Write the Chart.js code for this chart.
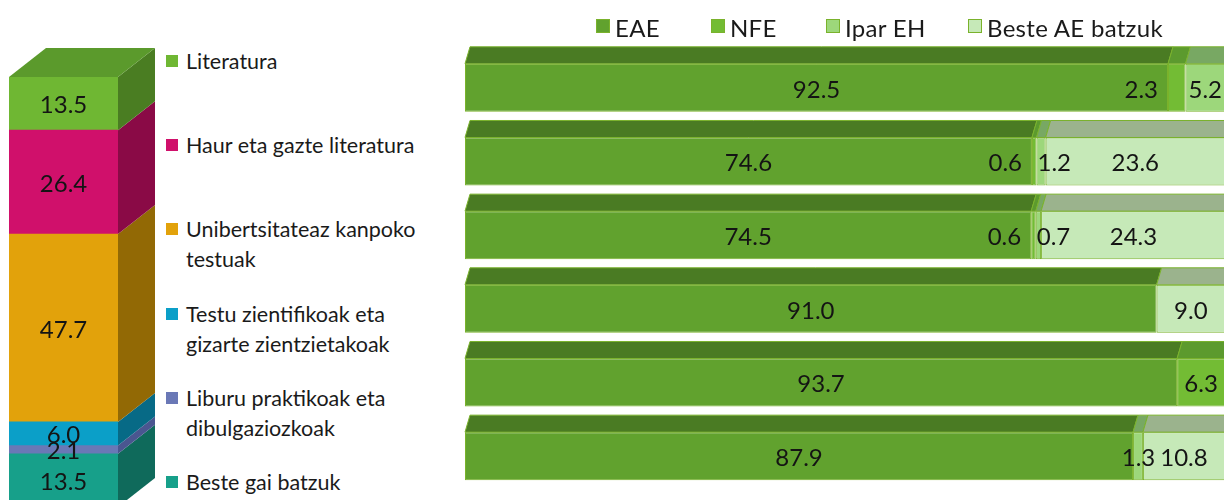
<!DOCTYPE html>
<html>
<head>
<meta charset="utf-8">
<script src="https://cdn.jsdelivr.net/npm/chart.js@4.4.1/dist/chart.umd.min.js"></script>
<style>
  html, body { margin:0; padding:0; width:1224px; height:500px; overflow:hidden; background:#fff; }
  body { position:relative; font-family: Lato, "Open Sans", sans-serif; color:#1a1a1a; }
  #leftWrap { position:absolute; left:0; top:0; width:160px; height:520px; }
  #rightWrap { position:absolute; left:440px; top:0; width:800px; height:500px; }
  #topicLegend { position:absolute; left:166px; top:0; width:290px; height:500px; }
  .tItem { position:absolute; left:0; width:280px; font-size:21.5px; line-height:30px; }
  .tItem .sw { position:absolute; left:0; top:9px; width:12px; height:12px; }
  .tItem .tx { display:block; margin-left:20px; width:245px; }
  #regionLegend { position:absolute; left:0; top:12px; width:1224px; height:34px; font-size:24px; line-height:32px; white-space:nowrap; letter-spacing:0.3px; }
  .rItem { position:absolute; top:0; display:flex; align-items:center; }
  .rItem .sw { width:14px; height:14px; margin-right:5px; margin-top:-4px; box-sizing:border-box; }
</style>
</head>
<body>
<div id="leftWrap"><canvas id="leftChart"></canvas></div>
<div id="topicLegend"></div>
<div id="rightWrap"><canvas id="rightChart"></canvas></div>
<div id="regionLegend"></div>
<script>
// ---- data ----
const topics = ['Literatura', 'Haur eta gazte literatura', 'Unibertsitateaz kanpoko testuak',
  'Testu zientifikoak eta gizarte zientzietakoak', 'Liburu praktikoak eta dibulgaziozkoak', 'Beste gai batzuk'];
const topicShares = [13.5, 26.4, 47.7, 6.0, 2.1, 13.5];
const regions = ['EAE', 'NFE', 'Ipar EH', 'Beste AE batzuk'];
const eaeValues   = [92.5, 74.6, 74.5, 91.0, 93.7, 87.9];
const nfeValues   = [2.3, 0.6, 0.6, 0, 6.3, 0];
const iparValues  = [5.2, 1.2, 0.7, 0, 0, 1.3];
const besteValues = [0, 23.6, 24.3, 9.0, 0, 10.8];

// ---- styles / layout ----
const topicFront = ['#6fb733', '#d0106b', '#e2a20b', '#0b9fc8', '#6a78b6', '#17a08a'];
const topicSide  = ['#4a7d22', '#8a0a46', '#926905', '#076a86', '#4a5690', '#0f6a5b'];
const topicTop   = '#5b9a2c';
const regionFront = ['#61a22e', '#73bc34', '#9dd77b', '#c6e9b8'];
const regionTop   = ['#4a7b23', '#5c9a2e', '#78a863', '#9bb38d'];
const regionBorder = '#7ab22c';
const regionLegendLeft = [596, 711, 826, 968];
const labelFont = '24px Lato, "Open Sans", sans-serif';

// ---- left stacked column (3D look) ----
const leftTotal = topicShares.reduce((a, b) => a + b, 0);
const leftDatasets = topics.map((t, i) => ({ label: t, data: [topicShares[i]], backgroundColor: topicFront[i],
  borderWidth: 0, _idx: i })).reverse();

const left3D = {
  id: 'left3D',
  afterDatasetsDraw(chart) {
    const ctx = chart.ctx, dx = 37, dy = 29;
    ctx.save();
    let topMost = null;
    chart.data.datasets.forEach((ds, di) => {
      const meta = chart.getDatasetMeta(di);
      meta.data.forEach(el => {
        const p = el.getProps(['x', 'y', 'base', 'width'], true);
        const x1 = p.x + p.width / 2, yT = Math.min(p.y, p.base), yB = Math.max(p.y, p.base);
        ctx.fillStyle = topicSide[ds._idx];
        ctx.beginPath();
        ctx.moveTo(x1, yT); ctx.lineTo(x1 + dx, yT - dy); ctx.lineTo(x1 + dx, yB - dy); ctx.lineTo(x1, yB);
        ctx.closePath(); ctx.fill();
        if (!topMost || yT < topMost.yT) topMost = { x0: p.x - p.width / 2, x1, yT };
      });
    });
    if (topMost) {
      ctx.fillStyle = topicTop;
      ctx.beginPath();
      ctx.moveTo(topMost.x0, topMost.yT); ctx.lineTo(topMost.x1, topMost.yT);
      ctx.lineTo(topMost.x1 + dx, topMost.yT - dy); ctx.lineTo(topMost.x0 + dx, topMost.yT - dy);
      ctx.closePath(); ctx.fill();
    }
    ctx.font = labelFont;
    ctx.fillStyle = '#141414'; ctx.textAlign = 'center'; ctx.textBaseline = 'middle';
    chart.data.datasets.forEach((ds, di) => {
      const meta = chart.getDatasetMeta(di);
      meta.data.forEach((el, j) => {
        const p = el.getProps(['x', 'y', 'base'], true);
        ctx.fillText(ds.data[j].toFixed(1), p.x, (p.y + p.base) / 2 + 2);
      });
    });
    ctx.restore();
  }
};

new Chart(document.getElementById('leftChart'), {
  type: 'bar',
  data: { labels: ['Gaiak'], datasets: leftDatasets },
  options: {
    responsive: true, maintainAspectRatio: false, animation: false,
    layout: { padding: { left: 9, right: 42, top: 77, bottom: 13 } },
    datasets: { bar: { categoryPercentage: 1, barPercentage: 1 } },
    scales: {
      x: { stacked: true, display: false },
      y: { stacked: true, display: false, min: 0, max: leftTotal }
    },
    plugins: { legend: { display: false }, tooltip: { enabled: false } }
  },
  plugins: [left3D]
});

// ---- right stacked horizontal bars (3D look) ----
const regionSeries = [eaeValues, nfeValues, iparValues, besteValues];
const rightDatasets = regions.map((r, i) => ({ label: r, data: regionSeries[i], backgroundColor: regionFront[i],
  borderColor: regionBorder, borderWidth: 1, borderSkipped: false }));

const right3D = {
  id: 'right3D',
  afterDatasetsDraw(chart) {
    const ctx = chart.ctx, dx = 5, dy = 17;
    ctx.save();
    chart.data.datasets.forEach((ds, di) => {
      const meta = chart.getDatasetMeta(di);
      meta.data.forEach((el, j) => {
        if (!ds.data[j]) return;
        const p = el.getProps(['x', 'y', 'base', 'height'], true);
        const x0 = Math.min(p.x, p.base), x1 = Math.max(p.x, p.base), yT = p.y - p.height / 2;
        ctx.fillStyle = regionTop[di];
        ctx.strokeStyle = regionBorder; ctx.lineWidth = 1;
        ctx.beginPath();
        ctx.moveTo(x0, yT); ctx.lineTo(x1, yT); ctx.lineTo(x1 + dx, yT - dy); ctx.lineTo(x0 + dx, yT - dy);
        ctx.closePath(); ctx.fill(); ctx.stroke();
      });
    });
    ctx.font = labelFont;
    ctx.fillStyle = '#141414'; ctx.textBaseline = 'middle';
    const nDs = chart.data.datasets.length;
    const seg = (di, j) => {
      const p = chart.getDatasetMeta(di).data[j].getProps(['x', 'y', 'base'], true);
      return { x0: Math.min(p.x, p.base), x1: Math.max(p.x, p.base), y: p.y };
    };
    chart.data.datasets.forEach((ds, di) => {
      ds.data.forEach((v, j) => {
        if (!v) return;
        const s = seg(di, j);
        const txt = v.toFixed(1), w = ctx.measureText(txt).width;
        if (w + 6 <= s.x1 - s.x0) { ctx.textAlign = 'center'; ctx.fillText(txt, (s.x0 + s.x1) / 2, s.y + 2); return; }
        if (di === 1) { ctx.textAlign = 'right'; ctx.fillText(txt, s.x0 - 10, s.y + 2); return; }
        // small segment: left-aligned, but keep clear of the next segment's centred label
        let left = s.x0 + 1;
        for (let k = di + 1; k < nDs; k++) {
          const nv = chart.data.datasets[k].data[j];
          if (!nv) continue;
          const n = seg(k, j), nw = ctx.measureText(nv.toFixed(1)).width;
          const nLeft = (n.x0 + n.x1) / 2 - nw / 2;
          left = Math.min(left, nLeft - 5 - w);
          break;
        }
        ctx.textAlign = 'left'; ctx.fillText(txt, left, s.y + 2);
      });
    });
    ctx.restore();
  }
};

new Chart(document.getElementById('rightChart'), {
  type: 'bar',
  data: { labels: topics, datasets: rightDatasets },
  options: {
    indexAxis: 'y', responsive: true, maintainAspectRatio: false, animation: false,
    layout: { padding: { left: 25, right: 15, top: 51, bottom: 7 } },
    datasets: { bar: { categoryPercentage: 1, barPercentage: 0.652 } },
    scales: {
      x: { stacked: true, display: false, min: 0, max: 100 },
      y: { stacked: true, display: false }
    },
    plugins: { legend: { display: false }, tooltip: { enabled: false } }
  },
  plugins: [right3D]
});

// ---- HTML legends ----
const tl = document.getElementById('topicLegend');
topics.forEach((t, i) => {
  const d = document.createElement('div');
  d.className = 'tItem';
  d.style.top = (46 + 84.2 * i) + 'px';
  d.innerHTML = '<span class="sw" style="background:' + topicFront[i] + '"></span><span class="tx"></span>';
  d.querySelector('.tx').textContent = t;
  tl.appendChild(d);
});
const rl = document.getElementById('regionLegend');
regions.forEach((r, i) => {
  const d = document.createElement('div');
  d.className = 'rItem';
  d.style.left = regionLegendLeft[i] + 'px';
  d.innerHTML = '<span class="sw" style="background:' + regionFront[i] + ';border:1px solid ' + regionBorder + '"></span><span class="tx"></span>';
  d.querySelector('.tx').textContent = r;
  rl.appendChild(d);
});
</script>
</body>
</html>
